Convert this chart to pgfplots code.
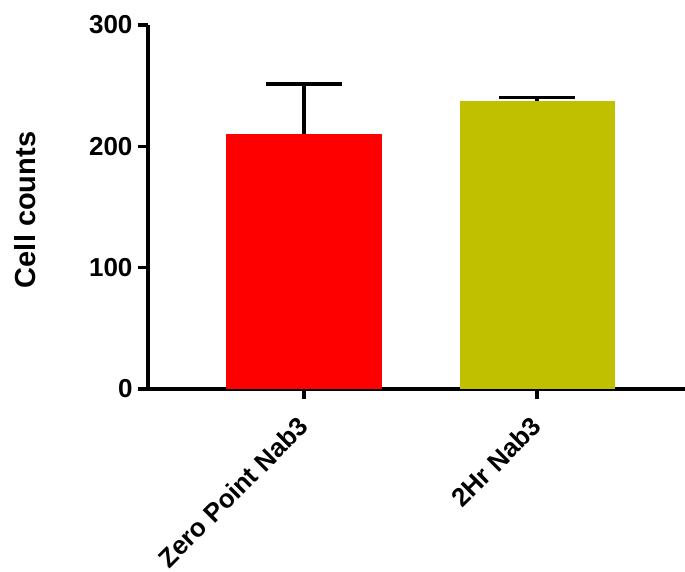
\documentclass[border=0pt]{standalone}
\usepackage{fontspec}
\setmainfont{Liberation Sans}
\usepackage{pgfplots}
\pgfplotsset{compat=1.18}
\definecolor{barred}{RGB}{255,0,0}
\definecolor{barolive}{RGB}{192,192,0}
\begin{document}
\begin{tikzpicture}
\begin{axis}[
  at={(0,0)}, anchor=south west,
  scale only axis, width=540pt, height=364pt,
  xmin=-0.6695, xmax=1.648, ymin=0, ymax=300,
  axis x line=bottom, axis y line=left,
  axis line style={-, line width=3.2pt, black},
  xtick={0,1}, xticklabels={Zero Point Nab3, 2Hr Nab3},
  ytick={0,100,200,300},
  tick align=outside, major tick length=10pt,
  tick style={line width=3.2pt, black},
  /pgf/number format/assume math mode=true,
  tick label style={font=\fontsize{26}{30}\selectfont\bfseries},
  yticklabel style={xshift=-2pt},
  xticklabel style={yshift=-20pt, xshift=2pt, rotate=45, anchor=east},
  ylabel={Cell counts},
  ylabel style={font=\fontsize{29}{32}\selectfont\bfseries, at={(axis description cs:-0.2278,0.492)}, anchor=center},
  ybar, bar width=155pt,
]
\addplot[fill=barred, draw=none, bar shift=0pt,
  error bars/.cd, y dir=plus, y explicit, error mark=|,
  error bar style={line width=3.2pt, black},
  error mark options={line width=3.2pt, black, mark size=38pt}]
  coordinates {(0,210.2) +- (0,41.2)};
\addplot[fill=barolive, draw=none, bar shift=0pt,
  error bars/.cd, y dir=plus, y explicit, error mark=|,
  error bar style={line width=3.2pt, black},
  error mark options={line width=3.2pt, black, mark size=38pt}]
  coordinates {(1,237.2) +- (0,3.3)};
\end{axis}
\pgfresetboundingbox
\path[use as bounding box] (-148pt,-182pt) rectangle (537pt,389pt);
\end{tikzpicture}
\end{document}
